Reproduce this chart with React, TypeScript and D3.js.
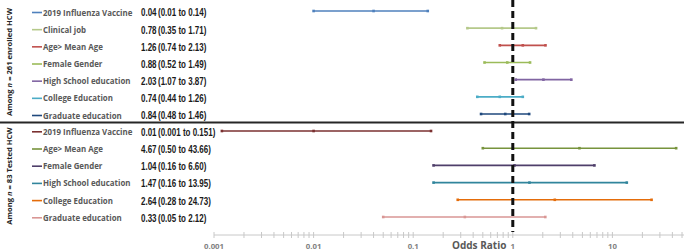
import React from "react";
import * as d3 from "d3";

const topLabels = ["2019 Influenza Vaccine", "Clinical job", "Age> Mean Age", "Female Gender", "High School education", "College Education", "Graduate education"];
const topOR = [0.04, 0.78, 1.26, 0.88, 2.03, 0.74, 0.84];
const topLow = [0.01, 0.35, 0.74, 0.52, 1.07, 0.44, 0.48];
const topHigh = [0.14, 1.71, 2.13, 1.49, 3.87, 1.26, 1.46];
const topORText = ["0.04", "0.78", "1.26", "0.88", "2.03", "0.74", "0.84"];
const topCIText = ["(0.01 to 0.14)", "(0.35 to 1.71)", "(0.74 to 2.13)", "(0.52 to 1.49)", "(1.07 to 3.87)", "(0.44 to 1.26)", "(0.48 to 1.46)"];
const topColors = ["#4f81bd", "#b5c98a", "#c0504d", "#9bbb59", "#8064a2", "#4bacc6", "#1f497d"];

const botLabels = ["2019 Influenza Vaccine", "Age> Mean Age", "Female Gender", "High School education", "College Education", "Graduate education"];
const botOR = [0.01, 4.67, 1.04, 1.47, 2.64, 0.33];
const botLow = [0.0012, 0.5, 0.16, 0.16, 0.28, 0.05];
const botHigh = [0.151, 43.66, 6.6, 13.95, 24.73, 2.12];
const botORText = ["0.01", "4.67", "1.04", "1.47", "2.64", "0.33"];
const botCIText = ["(0.001 to 0.151)", "(0.50 to 43.66)", "(0.16 to 6.60)", "(0.16 to 13.95)", "(0.28 to 24.73)", "(0.05 to 2.12)"];
const botColors = ["#7b3030", "#77933c", "#4f3f6a", "#31859c", "#e46c0a", "#d99694"];

const majorTicks = [0.001, 0.01, 0.1, 1, 10];
const majorTickLabels = ["0.001", "0.01", "0.1", "1", "10"];

const W = 684;
const H = 251;

export default function App() {
  const x = d3.scaleLog().domain([0.001, 100]).range([214, 712]);
  const yTop = d3.scalePoint<number>().domain(d3.range(topLabels.length)).range([11, 114]);
  const yBot = d3.scalePoint<number>().domain(d3.range(botLabels.length)).range([131, 217]);
  const axisY = 235;

  const minorTicks: number[] = [];
  for (let e = -3; e <= 1; e++) {
    for (let m = 1; m <= 9; m++) {
      const v = m * Math.pow(10, e);
      if (v <= 68) minorTicks.push(v);
    }
  }

  const legendFont = "'Open Sans', 'DejaVu Sans', sans-serif";
  const numFont = "'Liberation Sans', Arial, sans-serif";
  const sx = 0.74;

  const renderGroup = (labels: string[], or: number[], lo: number[], hi: number[], orT: string[], ciT: string[], colors: string[], y: d3.ScalePoint<number>, off: number) =>
    labels.map((lab, i) => {
      const yy = y(i)!;
      const ly = yy + off;
      return (
        <g key={lab + i}>
          <line x1={32} x2={42} y1={ly} y2={ly} stroke={colors[i]} strokeWidth={1.6} />
          <text x={43} y={ly + 3} fontFamily={legendFont} fontWeight={700} fontSize={7.9} fill="#595959">{lab}</text>
          <g transform={`translate(141,${ly + 3.9}) scale(${sx},1)`}>
            <text x={0} y={0} fontFamily={numFont} fontWeight={700} fontSize={10.8} fill="#1a1a1a">{orT[i]}</text>
          </g>
          <g transform={`translate(158,${ly + 3.9}) scale(${sx},1)`}>
            <text x={0} y={0} fontFamily={numFont} fontWeight={700} fontSize={10.8} fill="#1a1a1a">{ciT[i]}</text>
          </g>
          <line x1={x(lo[i])} x2={Math.min(x(hi[i]), W)} y1={yy} y2={yy} stroke={colors[i]} strokeWidth={1.6} />
          {[lo[i], or[i], hi[i]].map((v, k) => (
            <rect key={k} x={x(v) - 1.3} y={yy - 1.3} width={2.6} height={2.6} fill={colors[i]} />
          ))}
        </g>
      );
    });

  return (
    <svg width={W} height={H} style={{ position: "absolute", left: 0, top: 0, background: "#fff" }}>
      <rect width={W} height={H} fill="#fff" />
      {/* axis */}
      <line x1={x(0.001)} x2={W} y1={axisY} y2={axisY} stroke="#c8c8c8" strokeWidth={1} />
      {minorTicks.map((t, i) => (
        <line key={i} x1={x(t)} x2={x(t)} y1={axisY - 3} y2={axisY + 3} stroke="#c8c8c8" strokeWidth={1} />
      ))}
      {majorTicks.map((t, i) => (
        <text key={i} x={x(t)} y={249} textAnchor="middle" fontFamily={legendFont} fontWeight={700} fontSize={7.8} fill="#7f7f7f">{majorTickLabels[i]}</text>
      ))}
      <text x={452} y={249} fontFamily={legendFont} fontWeight={700} fontSize={10} fill="#595959">Odds Ratio</text>

      {renderGroup(topLabels, topOR, topLow, topHigh, topORText, topCIText, topColors, yTop, 1.5)}
      {renderGroup(botLabels, botOR, botLow, botHigh, botORText, botCIText, botColors, yBot, 0.8)}

      {/* separator */}
      <line x1={0} x2={W} y1={122.5} y2={122.5} stroke="#262626" strokeWidth={1.8} />

      {/* reference line */}
      <line x1={x(1)} x2={x(1)} y1={0} y2={232} stroke="#111" strokeWidth={3} strokeDasharray="7,4" />

      {/* group labels */}
      <text transform="translate(12,62) rotate(-90)" textAnchor="middle" fontFamily={legendFont} fontWeight={700} fontSize={7.6} fill="#262626">
        Among <tspan fontStyle="italic">n</tspan> = 261 enrolled HCW
      </text>
      <text transform="translate(12,176) rotate(-90)" textAnchor="middle" fontFamily={legendFont} fontWeight={700} fontSize={7.6} fill="#262626">
        Among <tspan fontStyle="italic">n</tspan> = 83 Tested HCW
      </text>
    </svg>
  );
}
